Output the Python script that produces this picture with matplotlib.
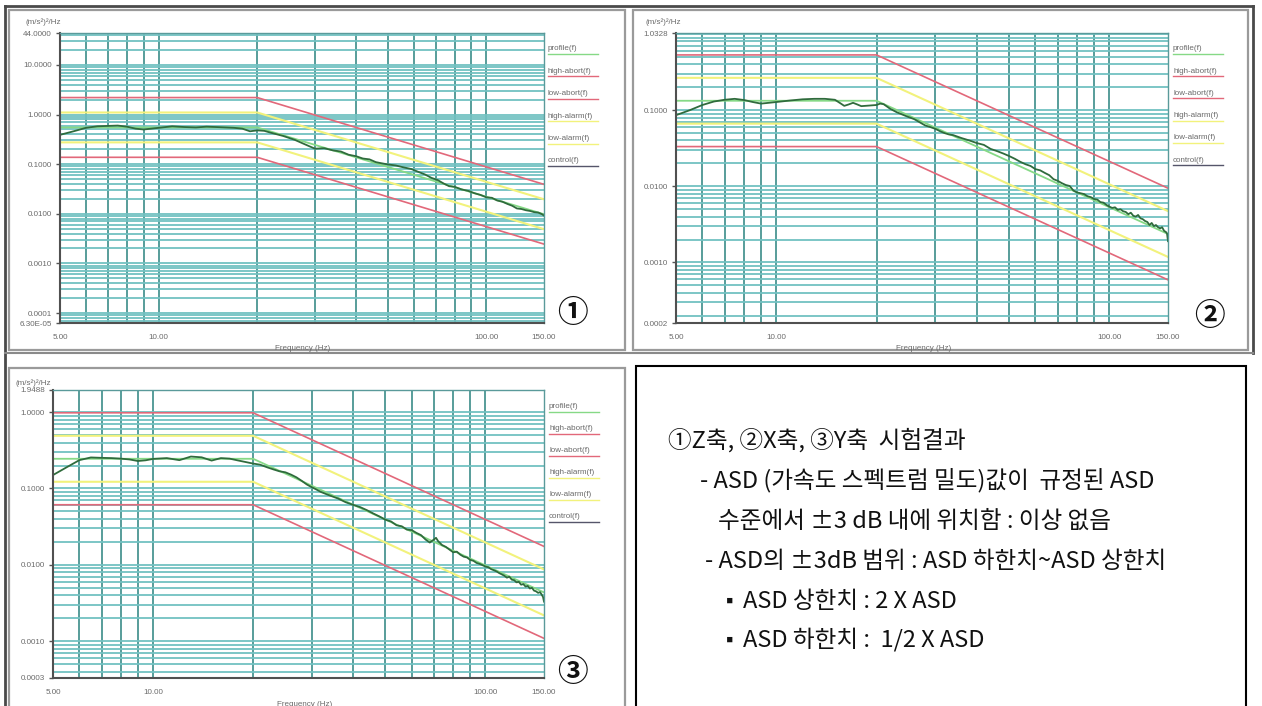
import numpy as np
import matplotlib
matplotlib.use("Agg")
import matplotlib.pyplot as plt
from matplotlib.ticker import FixedLocator, FixedFormatter, LogLocator, NullFormatter
from matplotlib.patches import Rectangle

W, H = 1262, 706

# ---------------------------------------------------------------- data
freq_ticks = [5, 10, 100, 150]
freq_tick_labels = ["5.00", "10.00", "100.00", "150.00"]

# reference ASD profile: flat to 20 Hz, then -6 dB/oct to 150 Hz
profile_freq = [5, 20, 150]
z_profile = [0.55, 0.55, 0.0098]
x_profile = [0.133, 0.133, 0.00236]
y_profile = [0.245, 0.245, 0.00436]

# tolerance bands on the reference ASD (alarm +/-3 dB, abort +/-6 dB)
alarm_high, alarm_low = 2.0, 0.5
abort_high, abort_low = 4.0, 0.25

# measured control spectra (Hz, (m/s^2)^2/Hz)
z_control = [
    (5, 0.39), (5.5, 0.46), (6, 0.54), (6.5, 0.58), (7, 0.59), (7.5, 0.60), (8, 0.57),
    (8.5, 0.52), (9, 0.50), (9.5, 0.52), (10, 0.54), (11, 0.58), (12, 0.56), (13, 0.55),
    (14, 0.57), (15, 0.56), (16, 0.55), (17, 0.54), (18, 0.52), (19, 0.46), (20, 0.48),
    (21, 0.47), (22, 0.43), (24, 0.37), (26, 0.31), (28, 0.25), (30, 0.205), (32, 0.21),
    (34, 0.19), (36, 0.18), (38, 0.155), (40, 0.145), (42, 0.13), (44, 0.125), (46, 0.11),
    (48, 0.104), (50, 0.099), (53, 0.094), (56, 0.086), (59, 0.08), (62, 0.07), (65, 0.062),
    (68, 0.053), (71, 0.048), (74, 0.041), (77, 0.036), (80, 0.035), (84, 0.031), (88, 0.029),
    (92, 0.026), (96, 0.024), (100, 0.0215), (104, 0.021), (108, 0.0185), (112, 0.0175),
    (116, 0.0158), (120, 0.0145), (124, 0.0128), (128, 0.0125), (132, 0.0118), (136, 0.0114),
    (140, 0.0108), (144, 0.0106), (148, 0.0098), (150, 0.0092),
]
x_control = [
    (5, 0.086), (5.5, 0.10), (6, 0.117), (6.5, 0.13), (7, 0.137), (7.5, 0.141), (8, 0.136),
    (8.5, 0.128), (9, 0.122), (9.5, 0.125), (10, 0.128), (11, 0.134), (12, 0.139), (13, 0.141),
    (14, 0.141), (15, 0.137), (15.5, 0.125), (16, 0.114), (16.5, 0.119), (17, 0.125),
    (17.5, 0.119), (18, 0.113), (19, 0.115), (20, 0.117), (20.5, 0.122), (21, 0.12), (22, 0.104),
    (23, 0.094), (24, 0.087), (25, 0.081), (26, 0.076), (27, 0.069), (28, 0.063), (29, 0.06),
    (30, 0.057), (31, 0.053), (32, 0.05), (33, 0.048), (34, 0.047), (36, 0.043), (38, 0.040),
    (40, 0.037), (42, 0.035), (44, 0.031), (46, 0.029), (48, 0.027), (50, 0.025), (52, 0.023),
    (54, 0.021), (56, 0.0195), (58, 0.0185), (60, 0.0168), (62, 0.0162), (64, 0.0150),
    (66, 0.0140), (68, 0.0124), (70, 0.0118), (72, 0.0110), (74, 0.0104), (76, 0.0101),
    (78, 0.0088), (80, 0.0083), (82, 0.0081), (84, 0.0079), (86, 0.0074), (88, 0.0072),
    (90, 0.0068), (92, 0.0067), (94, 0.0062), (96, 0.0061), (98, 0.0057), (100, 0.0054),
    (102, 0.0052), (104, 0.0053), (106, 0.0049), (108, 0.0050), (110, 0.0047), (112, 0.0046),
    (114, 0.0043), (116, 0.0045), (118, 0.0041), (120, 0.0040), (122, 0.0042), (124, 0.0038),
    (126, 0.0037), (128, 0.0035), (130, 0.0034), (132, 0.0031), (134, 0.0033), (136, 0.0030),
    (138, 0.0031), (140, 0.0029), (142, 0.0028), (144, 0.0029), (146, 0.0026), (148, 0.0025),
    (149, 0.0024), (150, 0.0019),
]
y_control = [
    (5, 0.15), (5.5, 0.19), (6, 0.235), (6.5, 0.255), (7, 0.252), (7.5, 0.25), (8, 0.246),
    (8.5, 0.24), (9, 0.229), (9.5, 0.234), (10, 0.244), (11, 0.25), (12, 0.235), (13, 0.262),
    (14, 0.256), (15, 0.232), (16, 0.25), (17, 0.246), (18, 0.233), (19, 0.222), (20, 0.212),
    (21, 0.205), (22, 0.19), (23, 0.178), (24, 0.168), (25, 0.163), (26, 0.152), (27, 0.14),
    (28, 0.126), (29, 0.113), (30, 0.104), (31, 0.097), (32, 0.09), (34, 0.081), (36, 0.074),
    (38, 0.066), (40, 0.061), (42, 0.057), (44, 0.052), (46, 0.047), (48, 0.043), (50, 0.039),
    (52, 0.037), (54, 0.033), (56, 0.032), (58, 0.029), (60, 0.0285), (62, 0.0262),
    (64, 0.0245), (66, 0.0215), (68, 0.0196), (70, 0.0215), (71, 0.0226), (72, 0.0205),
    (74, 0.0182), (76, 0.0172), (78, 0.0158), (80, 0.0146), (82, 0.0149), (84, 0.0136),
    (86, 0.0128), (88, 0.0125), (90, 0.0116), (92, 0.0113), (94, 0.0106), (96, 0.0103),
    (98, 0.0099), (100, 0.0095), (102, 0.0093), (104, 0.0088), (106, 0.0085), (108, 0.0082),
    (110, 0.0078), (112, 0.0075), (114, 0.0072), (116, 0.0068), (118, 0.0070), (120, 0.0064),
    (122, 0.0063), (124, 0.0059), (126, 0.0060), (128, 0.0055), (130, 0.0056), (132, 0.0052),
    (134, 0.0053), (136, 0.0049), (138, 0.0050), (140, 0.0046), (142, 0.0045), (144, 0.0043),
    (146, 0.0044), (148, 0.0040), (149, 0.0038), (150, 0.0033),
]

z_yticks = [44, 10, 1, 0.1, 0.01, 0.001, 0.0001, 6.3e-5]
z_ytick_labels = ["44.0000", "10.0000", "1.0000", "0.1000", "0.0100", "0.0010", "0.0001", "6.30E-05"]
x_yticks = [1.0328, 0.1, 0.01, 0.001, 1.6e-4]
x_ytick_labels = ["1.0328", "0.1000", "0.0100", "0.0010", "0.0002"]
y_yticks = [1.9488, 1.0, 0.1, 0.01, 0.001, 3.3e-4]
y_ytick_labels = ["1.9488", "1.0000", "0.1000", "0.0100", "0.0010", "0.0003"]

legend_labels = ["profile(f)", "high-abort(f)", "low-abort(f)",
                 "high-alarm(f)", "low-alarm(f)", "control(f)"]

summary_lines = [
    "①Z축, ②X축, ③Y축  시험결과",
    "- ASD (가속도 스펙트럼 밀도)값이  규정된 ASD",
    "수준에서 ±3 dB 내에 위치함 : 이상 없음",
    "- ASD의 ±3dB 범위 : ASD 하한치~ASD 상한치",
    "ASD 상한치 : 2 X ASD",
    "ASD 하한치 :  1/2 X ASD",
]
summary_bullets = ["", "", "", "", "▪", "▪"]

# ---------------------------------------------------------------- style
C_ABORT = "#e2687a"
C_ALARM = "#f2f27c"
C_PROFILE = "#86d986"
C_CONTROL = "#2f6b3c"
C_HGRID = "#72c2c2"
C_VGRID = "#4a9592"
C_TXT = "#6a6a6a"
SMALL = dict(family="Liberation Sans", size=5.8, color=C_TXT)
KR = ["Noto Sans CJK KR", "DejaVu Sans"]

fig = plt.figure(figsize=(W / 100, H / 100), dpi=100)

# pixel-space overlay for frames and free text
bg = fig.add_axes([0, 0, 1, 1], zorder=0)
bg.set_xlim(0, W)
bg.set_ylim(H, 0)
bg.axis("off")


def px_axes(x0, y0, x1, y1):
    return fig.add_axes([x0 / W, 1 - y1 / H, (x1 - x0) / W, (y1 - y0) / H], zorder=2)


def draw_panel(box, frame, control, profile, yticks, ylabels, legend_x, legend_y0, legend_dy,
               unit_xy, xlabel_xy, badge, badge_xy):
    fx0, fy0, fx1, fy1 = frame
    fr = Rectangle((fx0, fy0), fx1 - fx0, fy1 - fy0, facecolor="white",
                   edgecolor="#9a9a9a", lw=1.6)
    bg.add_patch(fr)

    ax = px_axes(*box)
    ax.set_xscale("log")
    ax.set_yscale("log")
    ax.set_xlim(5, 150)
    ax.set_ylim(yticks[-1], yticks[0])

    ax.xaxis.set_major_locator(FixedLocator(freq_ticks))
    ax.xaxis.set_major_formatter(FixedFormatter(freq_tick_labels))
    ax.yaxis.set_major_locator(FixedLocator(yticks))
    ax.yaxis.set_major_formatter(FixedFormatter(ylabels))
    for axis in (ax.xaxis, ax.yaxis):
        axis.set_minor_locator(LogLocator(base=10, subs=np.arange(1, 10), numticks=60))
        axis.set_minor_formatter(NullFormatter())
        axis.remove_overlapping_locs = False

    ax.grid(False, which="major")
    ax.grid(True, which="minor", axis="y", color=C_HGRID, lw=1.3)
    ax.grid(True, which="minor", axis="x", color=C_VGRID, lw=1.3)
    ax.set_axisbelow(True)
    ax.tick_params(which="minor", length=0)
    ax.tick_params(axis="y", which="major", length=3, width=1, color="#555555",
                   labelsize=5.8, labelcolor=C_TXT, pad=3)
    ax.tick_params(axis="x", which="major", length=0, labelsize=5.8,
                   labelcolor=C_TXT, pad=8)
    for lab in ax.get_xticklabels() + ax.get_yticklabels():
        lab.set_family("Liberation Sans")

    for side in ("left", "bottom"):
        ax.spines[side].set_color("#505050")
        ax.spines[side].set_linewidth(1.5)
    for side in ("top", "right"):
        ax.spines[side].set_color("#5a9a9a")
        ax.spines[side].set_linewidth(1.0)

    prof = np.array(profile)
    ax.plot(profile_freq, prof * abort_high, color=C_ABORT, lw=1.2)
    ax.plot(profile_freq, prof * abort_low, color=C_ABORT, lw=1.2)
    ax.plot(profile_freq, prof * alarm_high, color=C_ALARM, lw=1.5)
    ax.plot(profile_freq, prof * alarm_low, color=C_ALARM, lw=1.5)
    ax.plot(profile_freq, prof, color=C_PROFILE, lw=1.3)
    f, v = zip(*control)
    ax.plot(f, v, color=C_CONTROL, lw=1.3)

    # legend column to the right of the plot
    legend_colors = [C_PROFILE, C_ABORT, C_ABORT, C_ALARM, C_ALARM, "#55556a"]
    for i, (lab, col) in enumerate(zip(legend_labels, legend_colors)):
        yy = legend_y0 + i * legend_dy
        bg.text(legend_x, yy, lab, ha="left", va="center", **SMALL)
        bg.plot([legend_x, legend_x + 50], [yy + 5, yy + 5], color=col, lw=1.0)

    bg.text(unit_xy[0], unit_xy[1], "(m/s²)²/Hz", ha="left", va="center", **SMALL)
    t = bg.text(xlabel_xy[0], xlabel_xy[1], "Frequency (Hz)", ha="center", va="center", **SMALL)
    t.set_clip_path(fr)
    bg.text(badge_xy[0], badge_xy[1], badge, ha="center", va="center",
            fontsize=22, fontweight="bold", family=KR, color="#111111")
    return ax


# outer screenshot borders
bg.plot([5, 1253], [6, 6], color="#4a4a4a", lw=2)
bg.plot([5, 5], [6, H], color="#4a4a4a", lw=2)
bg.plot([1253, 1253], [6, 353], color="#4a4a4a", lw=2)
bg.plot([5, 1253], [353, 353], color="#8a8a8a", lw=1.5)

draw_panel((60, 33, 544, 323), (9, 10, 625, 350), z_control, z_profile,
           z_yticks, z_ytick_labels, 548, 49, 22.4, (25, 22), (303, 348), "①", (572, 313))
draw_panel((676, 33, 1168, 323), (633, 10, 1248, 350), x_control, x_profile,
           x_yticks, x_ytick_labels, 1173, 49, 22.2, (645, 22), (924, 348), "②", (1209, 316))
draw_panel((53, 390, 544, 678), (9, 368, 625, 712), y_control, y_profile,
           y_yticks, y_ytick_labels, 549, 407, 22, (16, 383), (305, 704), "③", (572, 672))

# summary box
bg.add_patch(Rectangle((636, 366), 610, 360, facecolor="white", edgecolor="black", lw=1.5))
line_pos = [(668, 440), (700, 481), (718, 521), (705, 561), (743, 601), (743, 640)]
for (lx, ly), s, b in zip(line_pos, summary_lines, summary_bullets):
    bg.text(lx, ly, s, ha="left", va="center", fontsize=17, fontweight="light",
            family=KR, color="#111111")
    if b:
        bg.text(lx - 13, ly + 1, b, ha="center", va="center", fontsize=14, family=KR,
                color="#111111")

fig.savefig("out.png", dpi=100)
